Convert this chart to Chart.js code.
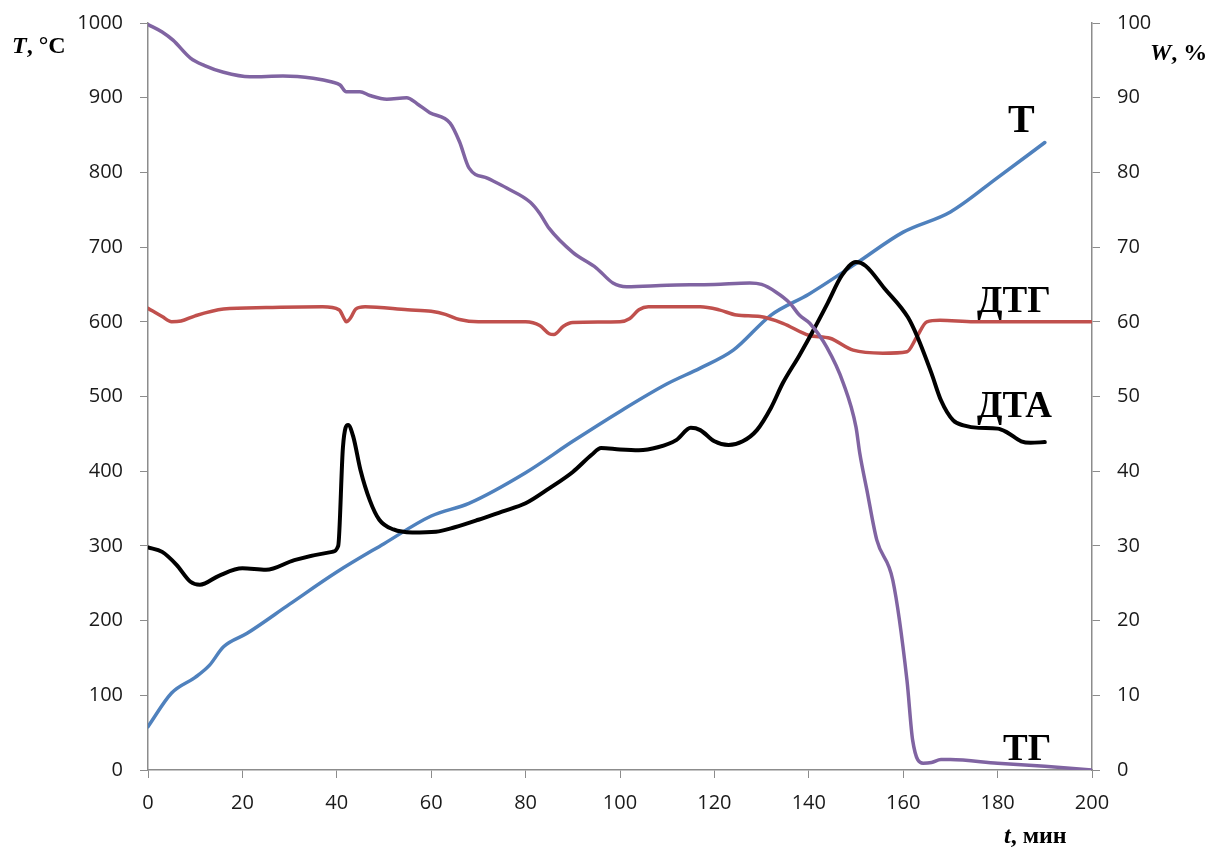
<!DOCTYPE html>
<html>
<head>
<meta charset="utf-8">
<script src="https://cdn.jsdelivr.net/npm/chart.js@4/dist/chart.umd.min.js"></script>
<style>
  body { margin: 0; background: #fff; }
  #wrap { width: 1213px; height: 847px; }
</style>
</head>
<body>
<div id="wrap"><canvas id="thermoChart"></canvas></div>
<script>
// T, °C (left axis)
let tempTime = [0, 5, 10, 13, 16, 21, 30, 40, 50, 60, 68, 80, 90, 100, 110, 117, 124, 132, 140, 150, 160, 170, 180, 190];
let tempValues = [58, 103, 124, 140, 165, 183, 222, 265, 303, 340, 357, 398, 440, 480, 517, 538, 562, 609, 637, 678, 720, 747, 793, 840];

// ДТА (left axis units)
let dtaTime = [0, 3, 6, 9, 11, 15, 20, 25, 31, 39, 40.3, 41.3, 42.4, 43.5, 45, 47, 49, 52, 56, 61, 65, 70, 75, 80, 85, 90, 94, 96, 100, 104, 108, 112, 115, 117, 120, 123, 126, 129, 132, 134.5, 138, 141, 144, 147, 150, 152, 156, 161, 163, 166, 168, 170.6, 173, 176, 180, 182, 185, 187, 190];
let dtaValues = [298, 292, 275, 252, 248, 260, 270, 268, 281, 292, 300, 432, 462, 446, 402, 361, 335, 322, 318, 319, 325, 335, 346, 357, 377, 399, 422, 431, 429, 428, 432, 442, 458, 455, 440, 435, 440, 455, 485, 518, 555, 589, 625, 662, 680, 675, 645, 606, 580, 531, 495, 468, 461, 458, 457, 452, 440, 438, 439];

// ДТГ (left axis units)
let dtgTime = [0, 3, 5, 7, 10, 16, 25, 37, 40.5, 41.5, 42, 43, 44, 46, 55, 60, 63, 66, 70, 80, 83, 85, 86, 88, 90, 100, 102, 104, 106, 117, 121, 124.7, 129.7, 134.5, 140, 144.5, 149.4, 155.7, 160.8, 162.9, 165, 167.8, 175, 200];
let dtgValues = [618, 607, 600, 601, 608, 617, 619, 620, 616, 605, 600, 606, 617, 620, 616, 614, 610, 603, 600, 600, 595, 584, 583, 594, 599, 600, 604, 616, 620, 620, 616, 609, 607, 598, 582, 578, 562, 558, 560, 580, 600, 602, 600, 600];

// ТГ, W % (right axis)
let tgTime = [0, 3, 5.3, 9, 12, 16, 21.6, 28.6, 35, 39, 40.7, 42, 44.9, 47, 50.6, 54.8, 57, 59.7, 64, 66, 68, 72, 76, 81, 83, 85, 90, 95, 98.5, 101.4, 110, 120, 127.5, 130, 133, 136, 138, 140.2, 143.8, 147.3, 150, 150.8, 152.3, 154.4, 157.8, 160.8, 162, 164.2, 166, 168, 170, 180, 190, 200];
let tgValues = [99.8, 98.8, 97.7, 95.3, 94.3, 93.4, 92.8, 92.9, 92.6, 92.1, 91.7, 90.8, 90.8, 90.3, 89.8, 90, 89.2, 88, 86.6, 84.1, 80.6, 79.2, 77.9, 76, 74.5, 72.5, 69.3, 67.2, 65.2, 64.7, 64.9, 65, 65.2, 65, 64, 62.5, 60.9, 59.8, 56.6, 51.8, 45.9, 42.4, 37.5, 30.8, 25.4, 12, 4, 0.9, 1, 1.4, 1.4, 0.9, 0.5, 0];

function toPoints(xs, ys) {
    return xs.map((x, i) => ({ x: x, y: ys[i] }));
}

let tickFont = { family: "'Open Sans', sans-serif", size: 20 };
let axisGray = '#8c8c8c';

// curve labels and axis titles
const labelsPlugin = {
    id: 'curveLabels',
    afterDraw(chart) {
        let ctx = chart.ctx;
        ctx.save();
        ctx.fillStyle = '#000';
        ctx.textBaseline = 'alphabetic';
        ctx.textAlign = 'left';
        ctx.font = "bold 40px 'Liberation Serif', serif";
        ctx.fillText('T', 1008, 132);
        ctx.font = "bold 37px 'Liberation Serif', serif";
        ctx.fillText('ДТГ', 977, 312);
        ctx.fillText('ДТА', 977, 417);
        ctx.fillText('ТГ', 1003, 760);

        function mixed(x, y, italicPart, rest) {
            ctx.font = "italic bold 24px 'Liberation Serif', serif";
            ctx.fillText(italicPart, x, y);
            let w = ctx.measureText(italicPart).width;
            ctx.font = "bold 24px 'Liberation Serif', serif";
            ctx.fillText(rest, x + w, y);
        }
        mixed(12, 53, 'T', ', °C');
        mixed(1150, 60, 'W', ', %');
        mixed(1004, 843, 't', ', мин');
        ctx.restore();
    }
};

function plain(value) {
    return String(value);
}

let ctx = document.getElementById('thermoChart').getContext('2d');
new Chart(ctx, {
    type: 'line',
    data: {
        datasets: [
            {
                label: 'ТГ',
                data: toPoints(tgTime, tgValues),
                yAxisID: 'y1',
                borderColor: '#8064a2',
                borderWidth: 3.5
            },
            {
                label: 'ДТА',
                data: toPoints(dtaTime, dtaValues),
                yAxisID: 'y',
                borderColor: '#000000',
                borderWidth: 4
            },
            {
                label: 'ДТГ',
                data: toPoints(dtgTime, dtgValues),
                yAxisID: 'y',
                borderColor: '#c0504d',
                borderWidth: 3.5
            },
            {
                label: 'T',
                data: toPoints(tempTime, tempValues),
                yAxisID: 'y',
                borderColor: '#4f81bd',
                borderWidth: 3.5
            }
        ]
    },
    options: {
        responsive: true,
        maintainAspectRatio: false,
        animation: false,
        elements: {
            point: { radius: 0 },
            line: { cubicInterpolationMode: 'monotone', borderCapStyle: 'round', borderJoinStyle: 'round' }
        },
        layout: { padding: { top: 23, right: 0, bottom: 0, left: 0 } },
        plugins: {
            legend: { display: false },
            tooltip: { enabled: false }
        },
        scales: {
            x: {
                type: 'linear',
                min: 0,
                max: 200,
                ticks: { stepSize: 20, color: '#1a1a1a', font: tickFont, padding: 13, maxRotation: 0, callback: plain },
                grid: { drawOnChartArea: false, tickLength: 8, color: axisGray },
                border: { color: axisGray, width: 1.5 },
                afterFit(scale) { scale.height = 77; scale.paddingLeft = 0; scale.paddingRight = 0; }
            },
            y: {
                position: 'left',
                min: 0,
                max: 1000,
                ticks: { stepSize: 100, color: '#1a1a1a', font: tickFont, padding: 17, callback: plain },
                grid: { drawOnChartArea: false, tickLength: 8, color: axisGray },
                border: { color: axisGray, width: 1.5 },
                afterFit(scale) { scale.width = 148; scale.paddingTop = 0; scale.paddingBottom = 0; }
            },
            y1: {
                position: 'right',
                min: 0,
                max: 100,
                ticks: { stepSize: 10, color: '#1a1a1a', font: tickFont, padding: 17, callback: plain },
                grid: { drawOnChartArea: false, tickLength: 8, color: axisGray },
                border: { color: axisGray, width: 1.5 },
                afterFit(scale) { scale.width = 121; scale.paddingTop = 0; scale.paddingBottom = 0; }
            }
        }
    },
    plugins: [labelsPlugin]
});
</script>
</body>
</html>
